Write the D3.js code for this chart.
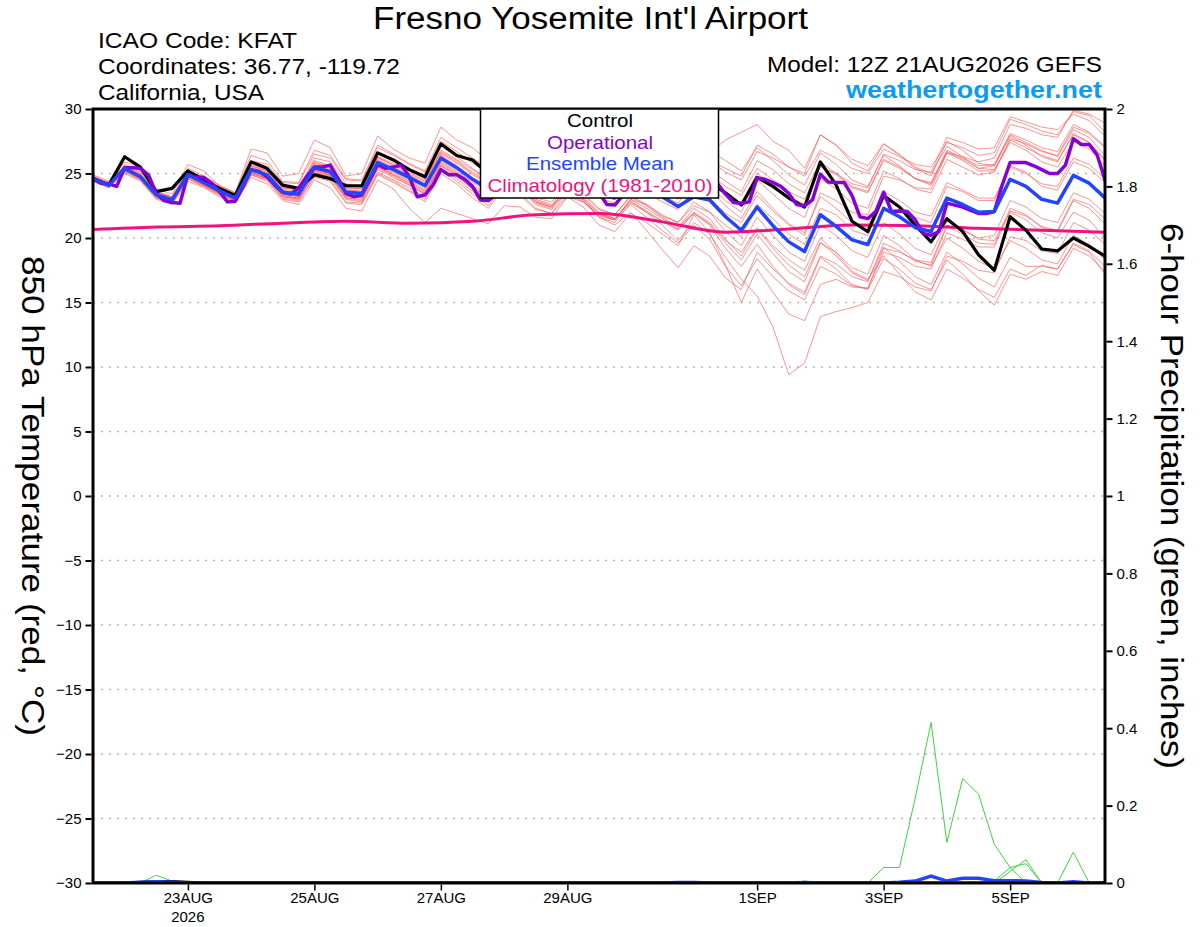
<!DOCTYPE html>
<html>
<head>
<meta charset="utf-8">
<script src="https://cdn.jsdelivr.net/npm/d3@7"></script>
<style>
  body { margin: 0; background: #fff; }
  svg { display: block; font-family: "Liberation Sans", Arial, sans-serif; }
</style>
</head>
<body>
<div id="chart"></div>
<script>
// ---- data ----
const runStart = new Date(Date.UTC(2026, 7, 21, 12));
const hours6 = d3.range(0, 385, 6);   // 65 forecast steps
const hours3 = d3.range(0, 385, 3);   // operational run, 129 steps
const hoursClim = d3.range(0, 385, 24);

const tempTicks = [-30, -25, -20, -15, -10, -5, 0, 5, 10, 15, 20, 25, 30];
const precipTicks = [0, 0.2, 0.4, 0.6, 0.8, 1, 1.2, 1.4, 1.6, 1.8, 2];
const dateTickLabels = ["23AUG", "25AUG", "27AUG", "29AUG", "1SEP", "3SEP", "5SEP"];
const dateTickDays = [23, 25, 27, 29, 32, 34, 36]; // day of August (00Z)

const control = [24.63,24.1,26.3,25.5,23.6,23.85,25.2,24.5,23.85,23.3,
  25.9,25.4,24.1,23.85,24.9,24.6,24.05,24.05,26.6,26.05,
  25.3,24.75,27.3,26.4,26.05,25.0,26.5,25.8,24.6,24.0,
  25.8,25.2,24.0,23.5,25.2,24.7,23.6,23.4,24.8,24.3,
  23.5,22.55,24.7,24.0,23.1,22.4,25.9,24.1,21.3,20.5,
  23.3,22.4,21.0,19.7,21.5,20.5,18.7,17.5,21.65,20.6,
  19.15,19.0,20.0,19.35,18.6];

const ensMean = [24.6,24.1,25.4,24.75,23.35,22.95,24.9,24.3,23.65,23.1,
  25.3,24.9,23.55,23.4,25.45,25.15,23.55,23.45,25.85,25.3,
  24.7,24.05,26.2,25.45,24.55,23.8,25.2,24.7,23.6,23.3,
  24.9,24.3,23.4,23.1,24.2,23.6,23.2,22.45,23.2,22.95,
  21.65,20.6,22.4,20.95,19.7,18.95,21.8,20.9,19.85,19.5,
  22.3,21.65,20.8,20.5,23.1,22.6,22.0,22.05,24.55,24.0,
  23.0,22.7,24.85,24.25,23.1];

const operational = [24.6,24.25,24.2,24.0,25.45,25.45,25.4,24.9,23.45,22.9,
  22.75,22.7,24.9,24.7,24.7,24.25,23.6,22.8,22.85,24.0,
  25.3,25.15,24.75,24.1,23.55,23.4,23.85,24.75,25.5,25.5,
  25.65,24.6,23.45,23.2,23.35,24.5,25.7,25.4,25.5,25.65,
  24.75,23.2,23.35,24.1,25.3,24.9,24.9,24.55,24.0,22.95,
  22.9,23.4,25.2,25.4,25.3,24.9,24.2,23.6,23.4,24.3,
  25.3,25.4,25.0,24.5,23.5,22.6,22.55,23.3,24.9,25.0,
  24.8,24.3,23.5,23.3,23.4,24.2,25.0,24.9,24.6,24.2,
  23.4,22.75,22.7,22.8,24.65,24.55,24.3,24.0,23.45,22.6,
  22.5,22.95,24.95,24.35,24.3,24.3,23.3,21.65,21.5,22.05,
  23.55,22.05,22.1,22.05,21.4,20.35,20.2,20.5,22.7,22.55,
  22.4,22.15,21.9,21.9,22.05,24.1,25.85,25.85,25.85,25.6,
  25.3,25.0,25.0,25.65,27.7,27.25,27.25,26.45,24.5];

const climatology = [20.65,20.85,20.95,21.15,21.3,21.15,21.3,21.8,21.9,
  21.25,20.45,20.7,21.0,20.95,20.75,20.6,20.45];

const members = [
  [24.8,24.2,25.6,25.0,23.5,23.1,25.1,24.6,23.9,23.3,25.8,25.4,24.0,23.7,26.2,25.9,24.2,24.0,26.6,26.0,25.4,24.8,27.1,26.3,25.4,24.6,26.3,25.8,24.6,24.2,26.1,25.5,24.5,24.2,25.8,25.2,24.5,24.0,26.5,26.0,25.4,24.8,27.2,26.5,25.5,24.8,26.8,26.2,25.4,25.0,26.9,26.3,25.7,25.5,27.4,27.0,26.4,26.6,29.2,28.8,28.3,28.0,29.8,29.5,28.2],
  [24.5,24.0,25.2,24.6,23.2,22.8,24.7,24.1,23.5,22.9,25.0,24.6,23.3,23.0,25.0,24.8,23.1,22.9,25.4,24.8,24.1,23.4,25.6,24.8,23.8,22.9,24.6,24.0,22.8,22.4,23.9,23.2,22.0,21.5,22.9,22.0,21.0,19.8,21.2,20.3,18.5,16.8,15.5,13.1,9.4,10.3,13.9,14.3,14.6,15.0,17.4,17.0,16.2,15.9,18.6,18.2,17.5,17.3,20.1,19.8,19.0,18.8,21.2,20.6,19.5],
  [24.4,23.9,25.0,24.4,23.0,22.6,24.4,23.9,23.2,22.7,24.7,24.2,22.9,22.6,24.5,23.9,22.3,22.1,24.5,23.8,22.3,21.2,22.3,21.9,21.5,21.1,22.5,22.4,21.6,21.5,23.2,22.8,21.8,21.4,23.0,22.6,21.7,21.2,22.5,22.0,21.0,20.1,22.6,21.5,20.3,19.5,22.3,21.8,20.6,20.2,23.0,22.5,21.6,21.2,24.0,23.6,22.9,22.9,25.6,25.1,24.0,23.7,25.9,25.4,24.3],
  [24.9,24.4,25.9,25.5,23.8,23.4,25.7,25.2,24.0,23.5,26.9,26.6,24.8,25.0,27.6,27.0,24.8,25.0,27.9,26.9,26.2,25.8,28.6,27.6,27.0,26.0,27.2,26.8,25.7,25.1,26.5,26.0,24.9,24.4,25.6,25.0,24.2,23.8,25.6,25.3,24.4,23.6,26.0,25.3,24.2,23.5,25.9,25.0,24.0,23.6,26.1,25.5,24.6,24.2,26.7,26.1,25.4,25.6,28.0,27.4,26.8,26.3,28.4,27.8,26.4],
  [24.6,24.0,25.3,24.7,23.3,22.9,24.8,24.2,23.6,23.0,25.2,24.8,23.5,23.3,25.3,25.0,23.4,23.2,25.6,25.1,24.5,23.8,26.0,25.2,24.3,23.6,25.0,24.3,23.1,22.8,24.2,23.5,22.3,21.8,23.2,22.5,21.6,20.9,21.9,21.0,19.2,17.8,19.5,17.8,16.4,15.6,18.5,17.6,16.4,16.0,18.4,17.6,16.5,16.0,18.3,17.2,15.9,14.8,17.2,16.8,17.4,17.1,19.2,18.6,17.4],
  [24.7,24.2,25.5,24.9,23.4,23.0,25.0,24.4,23.7,23.2,25.5,25.1,23.7,23.5,25.7,25.4,23.8,23.6,26.1,25.5,24.9,24.3,26.5,25.8,24.9,24.2,25.7,25.1,23.9,23.6,25.3,24.8,23.7,23.3,24.9,24.4,23.6,23.0,24.6,24.0,22.9,22.0,24.5,23.4,22.3,21.6,24.6,23.8,22.7,22.3,25.2,24.6,23.8,23.5,26.1,25.5,24.9,25.1,27.6,27.0,26.4,26.0,28.0,27.4,26.0],
  [24.5,24.1,25.3,24.6,23.3,22.8,24.9,24.1,23.4,22.9,25.1,24.6,23.2,23.1,25.2,24.9,23.2,23.1,25.5,24.9,24.3,23.6,25.8,25.0,24.0,23.1,24.6,24.0,22.9,22.5,23.8,23.0,21.6,21.0,22.0,20.6,19.1,17.7,19.4,18.6,16.9,16.0,18.9,17.6,16.5,15.8,18.6,18.0,17.0,16.6,19.6,19.0,18.2,17.9,20.9,20.3,19.6,19.5,22.3,21.8,20.8,20.5,22.9,22.3,21.1],
  [24.6,24.2,25.4,24.8,23.5,23.1,24.9,24.4,23.8,23.2,25.6,25.2,23.9,23.8,26.0,25.6,24.0,23.9,26.3,25.8,25.2,24.6,26.8,26.1,25.3,24.6,26.1,25.6,24.5,24.2,26.0,25.6,24.6,24.3,26.0,25.6,25.0,24.8,27.0,26.6,27.6,28.2,28.8,27.5,26.8,25.4,28.0,27.2,25.8,25.2,27.3,26.4,25.4,24.8,27.5,26.8,25.8,25.6,27.9,27.2,26.3,25.9,28.1,27.4,26.1],
  [24.4,23.9,25.1,24.5,23.1,22.7,24.6,24.0,23.4,22.8,24.9,24.4,23.1,22.9,24.8,24.5,22.8,22.7,25.0,24.4,23.7,23.0,25.3,24.4,23.4,22.5,24.0,23.5,22.3,21.9,23.2,22.4,21.0,20.5,21.9,21.2,20.3,19.4,21.8,20.4,17.9,15.0,17.6,15.8,14.1,13.6,16.4,16.8,16.2,16.1,19.2,18.9,18.3,18.1,21.0,20.6,20.0,20.2,22.9,22.4,21.5,21.2,23.5,23.0,21.9],
  [24.7,24.1,25.5,24.8,23.4,23.0,25.0,24.4,23.7,23.1,25.3,24.9,23.6,23.4,25.5,25.2,23.6,23.5,25.9,25.4,24.8,24.2,26.4,25.6,24.7,24.0,25.4,24.8,23.7,23.3,24.8,24.2,23.1,22.7,24.1,23.5,22.8,22.2,23.8,23.1,21.9,21.2,23.3,22.1,21.0,20.2,23.5,22.9,22.0,21.8,24.8,24.5,23.9,23.8,26.6,26.3,25.9,26.2,28.8,28.5,28.0,27.8,29.9,29.6,28.9],
  [24.5,24.0,25.3,24.7,23.2,22.8,24.8,24.2,23.5,23.0,25.1,24.7,23.3,23.1,25.0,24.7,23.0,22.8,25.1,24.5,23.9,23.2,25.4,24.6,23.6,22.8,24.3,23.8,22.6,22.2,23.6,22.9,21.6,21.2,22.7,22.0,21.3,20.6,21.9,21.1,19.6,18.3,20.3,18.8,17.4,16.6,19.6,18.9,17.7,17.2,20.2,19.4,18.3,17.8,20.0,19.2,18.2,17.6,19.8,19.2,18.3,18.0,20.2,19.5,18.3],
  [24.8,24.3,25.6,25.1,23.6,23.2,25.2,24.7,24.0,23.4,26.0,25.7,24.3,24.2,26.5,26.2,24.5,24.4,27.0,26.4,25.7,25.1,27.5,26.7,25.8,25.0,26.6,26.1,25.0,24.7,26.4,25.9,24.9,24.6,26.2,25.7,25.0,24.6,26.4,26.0,25.1,24.5,26.7,26.2,25.5,25.0,28.0,27.2,26.1,25.6,27.3,26.5,25.5,25.0,27.1,26.3,25.4,25.3,27.4,26.8,25.9,25.5,27.5,26.9,25.6],
  [24.6,24.1,25.4,24.7,23.3,22.9,24.9,24.3,23.6,23.1,25.3,24.8,23.4,23.2,25.3,25.0,23.3,23.2,25.6,25.0,24.4,23.7,25.9,25.1,24.1,23.3,24.8,24.2,23.0,22.6,24.1,23.4,22.2,21.8,23.3,22.6,21.8,21.2,22.8,22.0,20.5,19.4,21.6,20.2,18.9,18.2,21.0,20.2,19.0,18.5,21.2,20.3,19.2,18.7,21.3,20.7,19.9,19.8,22.0,21.4,20.4,20.0,22.0,21.4,20.0],
  [24.7,24.3,25.7,25.2,23.6,23.2,25.4,24.8,24.1,23.5,26.4,26.0,24.4,24.3,26.8,26.4,24.6,24.5,27.2,26.5,25.8,25.2,27.8,27.0,26.2,25.4,26.9,26.4,25.3,24.9,26.6,26.1,25.1,24.7,26.3,25.9,25.3,25.0,27.2,26.8,26.0,25.2,27.0,26.0,24.9,24.1,26.6,25.7,24.5,24.0,26.4,25.6,24.6,24.1,26.6,26.0,25.2,25.2,27.7,27.3,26.7,26.4,28.6,28.1,27.0],
  [24.5,24.0,25.2,24.5,23.1,22.7,24.6,24.0,23.3,22.8,24.9,24.5,23.0,22.8,24.7,24.4,22.7,22.6,24.9,24.3,23.6,22.8,25.0,24.2,23.1,22.3,23.8,23.3,22.2,21.9,23.5,22.8,21.7,21.4,23.0,22.3,21.5,20.8,22.3,21.5,19.9,18.6,20.7,19.2,17.9,17.0,19.7,18.6,17.3,16.7,19.3,18.2,17.0,16.4,18.9,18.0,16.9,16.2,18.5,17.8,17.8,17.6,19.6,19.0,17.8],
  [24.6,24.1,25.5,24.9,23.4,23.0,25.0,24.5,23.8,23.2,25.7,25.3,23.9,23.7,25.9,25.5,23.9,23.8,26.3,25.6,25.0,24.4,26.6,25.9,25.0,24.3,25.8,25.2,24.1,23.8,25.4,24.9,23.8,23.4,25.0,24.4,23.7,23.2,24.9,24.4,23.4,22.7,25.0,24.1,23.2,22.6,25.5,25.0,24.2,23.9,26.5,26.0,25.3,25.1,27.8,27.4,26.9,27.0,29.4,29.0,28.6,28.4,29.6,29.1,27.9],
  [24.5,24.1,25.3,24.7,23.3,22.9,24.8,24.2,23.5,23.0,25.2,24.8,23.4,23.2,25.2,24.9,23.3,23.1,25.5,24.9,24.2,23.5,25.7,24.9,23.9,23.1,24.5,23.9,22.8,22.4,23.9,23.1,21.9,21.4,22.6,21.6,20.6,19.6,21.0,19.9,17.8,16.3,18.4,17.0,15.9,15.2,17.8,17.2,16.3,16.1,18.9,18.5,17.8,17.6,20.4,19.9,19.3,19.3,22.1,21.7,20.9,20.6,23.0,22.6,21.5],
  [24.6,24.0,25.3,24.8,23.4,22.9,24.9,24.3,23.6,23.1,25.4,25.0,23.6,23.5,25.6,25.3,23.7,23.6,26.0,25.4,24.8,24.1,26.3,25.5,24.6,23.9,25.4,24.8,23.7,23.4,25.1,24.5,23.4,23.0,24.6,24.0,23.3,22.7,24.3,23.7,22.5,21.5,23.6,22.3,21.1,20.4,23.2,22.3,21.2,20.8,23.6,22.9,22.0,21.7,24.3,23.7,23.1,23.1,25.5,25.0,24.2,24.0,26.2,25.7,24.6],
  [24.7,24.2,25.5,24.9,23.5,23.1,25.1,24.5,23.8,23.3,25.6,25.2,23.8,23.6,25.8,25.5,23.9,23.8,26.2,25.7,25.1,24.5,26.7,26.0,25.1,24.4,25.9,25.3,24.2,23.9,25.6,25.0,23.9,23.6,25.3,24.8,24.1,23.7,25.3,24.9,24.0,23.3,25.4,24.5,23.6,23.0,25.6,24.9,23.9,23.5,26.0,25.4,24.6,24.3,26.8,26.2,25.6,25.7,28.1,27.6,27.0,26.7,28.8,28.2,27.1],
  [24.6,24.1,25.3,24.6,23.2,22.8,24.7,24.1,23.5,22.9,25.0,24.6,23.2,23.0,25.1,24.8,23.1,23.0,25.3,24.7,24.1,23.4,25.6,24.8,23.8,23.0,24.4,23.8,22.7,22.3,23.7,23.0,21.9,21.5,22.8,22.1,21.3,20.7,22.0,21.2,19.8,18.9,20.8,19.4,18.3,17.5,20.0,18.8,17.4,16.8,18.6,17.2,15.8,15.2,17.6,16.9,16.0,15.4,17.6,17.1,17.9,17.6,19.5,18.9,17.2]
];

// 6-hour precipitation (inches), members with any rain
const precipMembers = [
  [0,0,0,0,0,0,0,0,0,0,0,0,0,0,0,0,0,0,0,0,0,0,0,0,0,0,0,0,0,0,0,0,0,0,0,0,0,0,0,0,0,0,0,0,0,0,0,0,0,0,0.04,0.04,0.22,0.415,0.105,0.27,0.23,0.10,0.04,0,0,0,0,0,0],
  [0,0,0,0,0,0,0,0,0,0,0,0,0,0,0,0,0,0,0,0,0,0,0,0,0,0,0,0,0,0,0,0,0,0,0,0,0,0,0,0,0,0,0,0,0,0,0,0,0,0,0,0,0,0,0,0,0,0,0.03,0.06,0,0,0,0,0],
  [0,0,0,0,0,0,0,0,0,0,0,0,0,0,0,0,0,0,0,0,0,0,0,0,0,0,0,0,0,0,0,0,0,0,0,0,0,0,0,0,0,0,0,0,0,0,0,0,0,0,0,0,0,0,0,0,0,0.005,0.04,0.05,0,0,0,0,0],
  [0,0,0,0,0,0,0,0,0,0,0,0,0,0,0,0,0,0,0,0,0,0,0,0,0,0,0,0,0,0,0,0,0,0,0,0,0,0,0,0,0,0,0,0,0,0,0,0,0,0,0,0,0,0,0,0,0,0,0,0,0,0,0.08,0,0],
  [0,0,0,0,0.02,0.005,0,0,0,0,0,0,0,0,0,0,0,0,0,0,0,0,0,0,0,0,0,0,0,0,0,0,0,0,0,0,0,0.004,0.004,0,0,0,0,0,0,0.005,0,0,0,0,0,0,0,0,0,0,0,0,0,0,0,0,0,0,0]
];
const precipMean = [0,0,0,0.002,0.003,0.002,0,0,0,0,0,0,0,0,0,0,0,0,0,0,0,0,0,0,0,0,0,0,0,0,0,0,0,0,0,0,0,0.001,0.001,0,0,0,0,0,0,0.001,0,0,0,0,0,0.002,0.005,0.018,0.005,0.012,0.012,0.006,0.006,0.005,0.001,0,0.003,0,0];
const precipControl = [0,0,0,0.002,0.004,0.004,0.002,0,0,0,0,0,0,0,0,0,0,0,0,0,0,0,0,0,0,0,0,0,0,0,0,0,0,0,0,0,0,0,0,0,0,0,0,0,0,0,0,0,0,0,0,0,0,0,0,0,0,0,0,0,0,0,0,0,0];

// ---- layout ----
const W = 1200, H = 927;
const plot = { left: 93, right: 1105, top: 109, bottom: 883 };
const narrow = "'Liberation Sans Narrow', 'Liberation Sans', Arial, sans-serif";

const svg = d3.select("#chart").append("svg")
  .attr("width", W).attr("height", H);
svg.append("rect").attr("width", W).attr("height", H).attr("fill", "#fff");

const hourToDate = h => new Date(runStart.getTime() + h * 3600e3);

const x = d3.scaleUtc()
  .domain([runStart, hourToDate(384)])
  .range([plot.left, plot.right]);
const yT = d3.scaleLinear().domain([-30, 30]).range([plot.bottom, plot.top]);
const yP = d3.scaleLinear().domain([0, 2]).range([plot.bottom, plot.top]);

svg.append("clipPath").attr("id", "plotClip")
  .append("rect")
  .attr("x", plot.left).attr("y", plot.top)
  .attr("width", plot.right - plot.left).attr("height", plot.bottom - plot.top);

// dotted grid lines
svg.append("g")
  .selectAll("line")
  .data(tempTicks.filter(t => t > -30 && t < 30))
  .join("line")
  .attr("x1", plot.left).attr("x2", plot.right)
  .attr("y1", d => yT(d)).attr("y2", d => yT(d))
  .attr("stroke", "#b4b4b4").attr("stroke-width", 1.3)
  .attr("stroke-dasharray", "2,6");

const g = svg.append("g").attr("clip-path", "url(#plotClip)");

const lineFrom = (hours, yScale) => d3.line()
  .x((d, i) => x(hourToDate(hours[i])))
  .y(d => yScale(d));

// ensemble members
g.selectAll(".member")
  .data(members)
  .join("path")
  .attr("class", "member")
  .attr("d", lineFrom(hours6, yT))
  .attr("fill", "none")
  .attr("stroke", "#ff4a4a")
  .attr("stroke-opacity", 0.75)
  .attr("stroke-width", 0.8);

// precipitation members
g.selectAll(".pmember")
  .data(precipMembers)
  .join("path")
  .attr("class", "pmember")
  .attr("d", lineFrom(hours6, yP))
  .attr("fill", "none")
  .attr("stroke", "#3fd43f")
  .attr("stroke-width", 1);

// climatology
g.append("path")
  .datum(climatology)
  .attr("d", lineFrom(hoursClim, yT).curve(d3.curveMonotoneX))
  .attr("fill", "none")
  .attr("stroke", "#f0137f")
  .attr("stroke-width", 3);

// control
g.append("path")
  .datum(control)
  .attr("d", lineFrom(hours6, yT))
  .attr("fill", "none")
  .attr("stroke", "#000")
  .attr("stroke-width", 3.2)
  .attr("stroke-linejoin", "round");

g.append("path")
  .datum(precipControl)
  .attr("d", lineFrom(hours6, yP))
  .attr("fill", "none")
  .attr("stroke", "#000")
  .attr("stroke-width", 3);

// operational
g.append("path")
  .datum(operational)
  .attr("d", lineFrom(hours3, yT))
  .attr("fill", "none")
  .attr("stroke", "#8800d8")
  .attr("stroke-width", 3.5)
  .attr("stroke-linejoin", "round");

// ensemble mean
g.append("path")
  .datum(ensMean)
  .attr("d", lineFrom(hours6, yT))
  .attr("fill", "none")
  .attr("stroke", "#2244ff")
  .attr("stroke-width", 3.5)
  .attr("stroke-linejoin", "round");

g.append("path")
  .datum(precipMean)
  .attr("d", lineFrom(hours6, yP))
  .attr("fill", "none")
  .attr("stroke", "#2244ff")
  .attr("stroke-width", 3.5);

// frame
svg.append("rect")
  .attr("x", plot.left).attr("y", plot.top)
  .attr("width", plot.right - plot.left).attr("height", plot.bottom - plot.top)
  .attr("fill", "none").attr("stroke", "#000").attr("stroke-width", 3);

// left axis
const leftAxis = svg.append("g")
  .attr("transform", `translate(${plot.left - 1.5},0)`)
  .call(d3.axisLeft(yT).tickValues(tempTicks).tickSize(6).tickPadding(4));
leftAxis.select(".domain").remove();
leftAxis.selectAll(".tick line").attr("stroke-width", 2);
leftAxis.selectAll(".tick text")
  .attr("font-family", narrow)
  .attr("font-size", 15).attr("fill", "#000");

// right axis
const rightAxis = svg.append("g")
  .attr("transform", `translate(${plot.right + 1.5},0)`)
  .call(d3.axisRight(yP).tickValues(precipTicks).tickSize(6).tickPadding(4)
    .tickFormat(d => String(+d.toFixed(1))));
rightAxis.select(".domain").remove();
rightAxis.selectAll(".tick line").attr("stroke-width", 2);
rightAxis.selectAll(".tick text")
  .attr("font-family", narrow)
  .attr("font-size", 15).attr("fill", "#000");

// bottom axis (dates at 00Z)
const dateTicks = dateTickDays.map(d => new Date(Date.UTC(2026, 7, d, 0)));
const bottomAxis = svg.append("g")
  .attr("transform", `translate(0,${plot.bottom + 1.5})`)
  .call(d3.axisBottom(x).tickValues(dateTicks).tickSize(6).tickPadding(2)
    .tickFormat((d, i) => dateTickLabels[i]));
bottomAxis.select(".domain").remove();
bottomAxis.selectAll(".tick line").attr("stroke-width", 1.5);
bottomAxis.selectAll(".tick text")
  .attr("font-family", narrow)
  .attr("font-size", 15).attr("fill", "#000");
svg.append("text")
  .attr("x", x(dateTicks[0])).attr("y", 922)
  .attr("text-anchor", "middle")
  .attr("font-family", narrow)
  .attr("font-size", 15)
  .text("2026");

// text helper: stretch to the wider lettering of the original
function label(sel, txt, xPos, yPos, size, len, anchor) {
  return sel.append("text")
    .attr("x", xPos).attr("y", yPos)
    .attr("text-anchor", anchor || "start")
    .attr("font-size", size)
    .attr("textLength", len)
    .attr("lengthAdjust", "spacingAndGlyphs")
    .text(txt);
}

// axis titles
const midY = (plot.top + plot.bottom) / 2;
label(svg.append("g").attr("transform", `translate(22,${midY}) rotate(90)`),
  "850 hPa Temperature (red, °C)", 0, 0, 31, 480, "middle");
label(svg.append("g").attr("transform", `translate(1161,${midY}) rotate(90)`),
  "6-hour Precipitation (green, inches)", 0, 0, 31, 546, "middle");

// header
label(svg, "Fresno Yosemite Int'l Airport", 590.5, 29, 31, 435, "middle");
const infoLines = ["ICAO Code: KFAT", "Coordinates: 36.77, -119.72", "California, USA"];
const infoLens = [199, 302, 166];
infoLines.forEach((t, i) => label(svg, t, 98, 48 + i * 26, 22.5, infoLens[i]));
label(svg, "Model: 12Z 21AUG2026 GEFS", 1102, 72, 22.5, 335, "end");
label(svg, "weathertogether.net", 1102, 98, 23.5, 256, "end")
  .attr("font-weight", "bold")
  .attr("fill", "#0a9cf5");

// legend
const legendItems = [
  { label: "Control", color: "#000", len: 66 },
  { label: "Operational", color: "#8800d8", len: 106 },
  { label: "Ensemble Mean", color: "#2244ff", len: 148 },
  { label: "Climatology (1981-2010)", color: "#f0137f", len: 225 }
];
svg.append("rect")
  .attr("x", 480.5).attr("y", plot.top)
  .attr("width", 238).attr("height", 89)
  .attr("fill", "#fff").attr("stroke", "#000").attr("stroke-width", 1.5);
legendItems.forEach((d, i) =>
  label(svg, d.label, 600, 127 + i * 21.7, 19, d.len, "middle").attr("fill", d.color));
</script>
</body>
</html>
